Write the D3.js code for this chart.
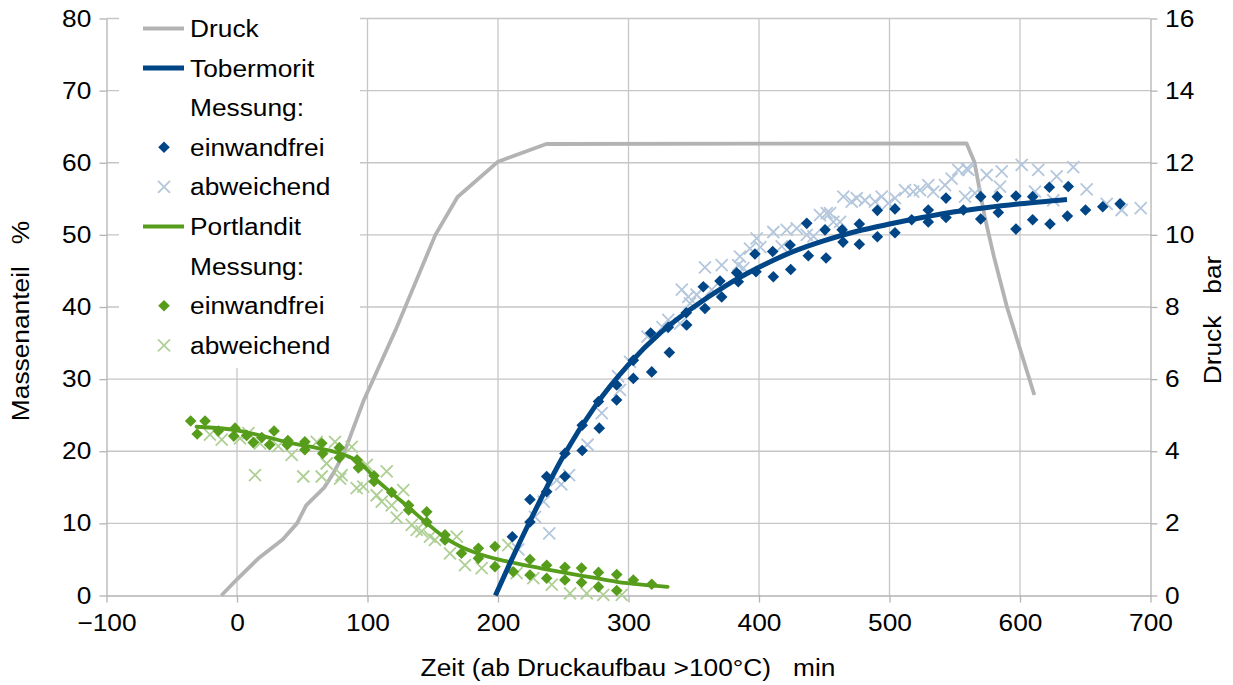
<!DOCTYPE html>
<html>
<head>
<meta charset="utf-8">
<script src="https://cdn.jsdelivr.net/npm/d3@7/dist/d3.min.js"></script>
<style>
  html, body { margin: 0; padding: 0; background: #fff; }
  svg { display: block; font-family: "Liberation Sans", Arial, sans-serif; }
</style>
</head>
<body>
<svg id="chart" width="1233" height="685"></svg>
<script>
// Pressure during autoclaving [min, bar]
const druck = [[-12,0],[0,0.45],[17,1.05],[35,1.55],[46,2.0],[53,2.5],[67,3.0],[74,3.4],[82,3.95],
  [97,5.4],[122,7.4],[152,10.0],[169,11.05],[200,12.03],[237,12.52],[559,12.54],[565,12.03],
  [573,10.5],[580,9.4],[590,8.0],[611,5.56]];

// Fitted Tobermorit content [min, %]
const tobermoritFit = [[198,0],[210,4.8],[225,10.5],[250,19.3],[275,26.4],[300,32.0],[325,36.5],
  [350,40.0],[375,43.0],[400,45.5],[425,47.6],[450,49.2],[475,50.5],[500,51.5],[525,52.4],
  [550,53.2],[575,53.8],[600,54.3],[636,54.9]];

// Tobermorit measurements, valid
const tobermoritOk = [[211,8.15],[224.5,13.3],[224.5,10.2],[237.3,16.5],[237.3,14.4],[251.3,19.7],
  [251.3,16.5],[264.5,23.6],[264.5,20.1],[277,26.9],[277.6,23.2],[290.9,29.2],[290.9,27.1],
  [303.7,32.6],[303.7,30.1],[317,36.4],[317.8,31.0],[330.5,37.2],[331.3,33.7],[344.3,39.2],
  [344.6,37.5],[357.3,42.8],[358.6,39.8],[370.1,43.6],[371.4,41.4],[382.9,44.75],[384.1,43.5],
  [396.9,47.35],[397.7,44.9],[410.5,47.7],[411,44.2],[423.8,48.6],[424.3,45.2],[436.6,51.6],
  [437.8,47.1],[450.6,50.7],[451.4,46.8],[463.7,50.7],[464.4,49.0],[476.9,51.5],[476.9,48.7],
  [490.7,53.4],[490.7,49.75],[504.2,53.6],[504.2,50.3],[517,52.1],[529.7,53.45],[529.7,51.8],
  [543.3,55.1],[543.3,52.4],[556.6,53.45],[569.9,55.3],[569.9,52.2],[582.6,55.3],[583.4,53.1],
  [596.9,55.4],[596.9,50.8],[609.7,55.3],[609.7,52.1],[622.5,56.6],[623,51.5],[637,56.7],
  [636.3,52.6],[650.2,53.45],[663.4,53.9],[676.7,54.3]];

// Tobermorit measurements, deviating
const tobermoritDev = [[215.6,6.4],[228.4,10.9],[235,13.0],[239.3,8.6],[245,16.0],[248.5,15.4],
  [254.5,16.7],[268.6,20.9],[279.5,25.3],[292,30.4],[293.5,28.5],[301.2,32.4],[314.5,35.9],
  [326,37.2],[330.5,38.2],[339.5,37.7],[340.8,42.4],[345.8,41.4],[347.1,40.5],[352.2,41.7],
  [358.6,45.5],[363.8,42.4],[371.4,45.8],[384,45.8],[385.4,47.0],[388,45.4],[393.1,48.1],
  [398.2,49.5],[401,48.3],[411,50.4],[417.4,48.4],[421.2,50.7],[428.9,50.9],[436.6,50.0],
  [441.7,49.8],[446.7,52.75],[451.9,53.0],[454.4,53.0],[457,51.8],[462.1,51.8],[464.6,55.3],
  [471,54.6],[474.9,55.1],[481.2,54.8],[488.9,54.6],[494,55.3],[499.1,54.4],[504.2,55.1],
  [511.9,56.2],[518.2,56.0],[523.3,56.2],[529.7,56.9],[533.5,56.0],[542.5,56.9],[547.6,57.8],
  [552.7,59.0],[559.2,59.2],[560.4,59.0],[557.9,55.3],[565.5,55.8],[574.5,58.3],[584.7,56.7],
  [586,58.8],[601.3,59.7],[611.5,56.0],[614,59.0],[625.5,54.8],[628.1,58.1],[640.8,59.4],
  [651.1,56.3],[666.4,54.3],[677.9,53.45],[692.5,53.7]];

// Fitted Portlandit content [min, %]
const portlanditFit = [[-31,23.4],[0,22.9],[20,22.1],[40,21.2],[60,20.5],[75,19.9],[85,19.3],
  [93,18.6],[100,17.4],[106,16.2],[118,14.3],[131,12.3],[145,10.1],[158,8.2],[170,6.9],
  [184,5.85],[200,5.0],[214,4.45],[235,3.7],[253,3.1],[272,2.5],[291,1.9],[310,1.5],[330,1.2]];

// Portlandit measurements, valid
const portlanditOk = [[-35.5,24.2],[-24.5,24.2],[-30.5,22.4],[-14.3,22.8],[-1.5,23.2],[-2.5,22.1],
  [7.4,22.2],[12.5,21.2],[19,21.9],[25,20.9],[28.4,22.8],[39,21.5],[38.5,20.9],[52,21.3],
  [52,20.2],[65,21.1],[65.7,19.7],[78.4,20.5],[78.4,19.1],[92,18.8],[93,17.7],[105,16.6],
  [105,15.8],[118.5,14.3],[131.5,12.5],[131.5,11.85],[145.4,11.6],[145.4,10.2],[159.4,8.4],
  [159.4,7.7],[172,5.85],[185,6.55],[185,5.15],[197.7,6.8],[197.7,4.0],[211.7,3.3],[224.5,5.0],
  [224.5,2.85],[237.3,4.2],[237.3,2.4],[251.3,3.9],[251.3,2.15],[264,3.8],[264,1.8],[277,3.2],
  [277,1.2],[291,2.9],[291,0.7],[303.7,2.15],[317.8,1.55]];

// Portlandit measurements, deviating
const portlanditDev = [[-20.7,22.3],[-11.7,21.6],[2.3,21.8],[8.7,22.5],[13.8,16.7],[17.6,21.1],
  [31.6,20.7],[41.9,19.5],[50.8,16.5],[61.1,21.3],[64.9,16.5],[68.7,18.3],[75.1,21.3],[79,16.2],
  [80.2,16.7],[87.9,20.6],[91.7,14.9],[96.8,15.1],[99.4,18.1],[107,13.9],[110.9,13.0],
  [114.7,17.2],[118.5,12.5],[122.4,10.8],[127.4,14.6],[133.9,9.8],[137.7,9.1],[141.5,8.9],
  [147.9,8.15],[151.7,7.7],[163.2,5.85],[168.4,8.15],[174.7,4.2],[187.5,3.8],[207.9,7.0],
  [214.3,3.1],[227.1,2.4],[241.2,1.5],[255.2,0.3],[268,0.3],[280.7,0.1],[294.8,0.1]];

const xTicks = [-100, 0, 100, 200, 300, 400, 500, 600, 700];
const yTicks = [0, 10, 20, 30, 40, 50, 60, 70, 80];
const y2Ticks = [0, 2, 4, 6, 8, 10, 12, 14, 16];

const legendItems = [
  { label: "Druck", kind: "line", color: "#b3b3b3", width: 4 },
  { label: "Tobermorit", kind: "line", color: "#004586", width: 5 },
  { label: "Messung:", kind: "none" },
  { label: "einwandfrei", kind: "diamond", color: "#004586" },
  { label: "abweichend", kind: "cross", color: "#b4c7dc" },
  { label: "Portlandit", kind: "line", color: "#579d1c", width: 4 },
  { label: "Messung:", kind: "none" },
  { label: "einwandfrei", kind: "diamond", color: "#579d1c" },
  { label: "abweichend", kind: "cross", color: "#afd095" }
];

const svg = d3.select("#chart");
const plotLeft = 106.5, plotRight = 1150.5, plotTop = 18.5, plotBottom = 595.5;

const x = d3.scaleLinear().domain([-100, 700]).range([plotLeft, plotRight]);
const y = d3.scaleLinear().domain([0, 80]).range([plotBottom, plotTop]);
const y2 = d3.scaleLinear().domain([0, 16]).range([plotBottom, plotTop]);

const gridColor = "#c6c6c6";
const axisColor = "#b3b3b3";
const fontSize = 23.5;
const stretch = 1.12;   // horizontal glyph stretch of all labels

// Grid lines
const grid = svg.append("g");
grid.selectAll("line.h").data(yTicks.filter(d => d > 0)).join("line")
  .attr("x1", plotLeft).attr("x2", plotRight)
  .attr("y1", d => y(d)).attr("y2", d => y(d))
  .attr("stroke", gridColor).attr("stroke-width", 1.3);
grid.selectAll("line.v").data(xTicks.slice(1, -1)).join("line")
  .attr("x1", d => x(d)).attr("x2", d => x(d))
  .attr("y1", plotTop).attr("y2", plotBottom)
  .attr("stroke", gridColor).attr("stroke-width", 1.3);

// Axes
const axisStyle = g => {
  g.select(".domain").attr("stroke", axisColor).attr("stroke-width", 1.3);
  g.selectAll(".tick line").attr("stroke", axisColor).attr("stroke-width", 1.3);
  g.selectAll(".tick text").attr("fill", "#000").attr("font-size", fontSize)
    .attr("font-family", "Liberation Sans, Arial, sans-serif")
    .attr("transform", `scale(${stretch},1)`);
};
svg.append("g").attr("transform", `translate(0,${plotBottom})`)
  .call(d3.axisBottom(x).tickValues(xTicks).tickSize(7).tickSizeOuter(0).tickPadding(12).tickFormat(d3.format("d")))
  .call(axisStyle);
svg.append("g").attr("transform", `translate(${plotLeft},0)`)
  .call(d3.axisLeft(y).tickValues(yTicks).tickSize(7).tickSizeOuter(0).tickPadding(6.5))
  .call(axisStyle);
svg.append("g").attr("transform", `translate(${plotRight},0)`)
  .call(d3.axisRight(y2).tickValues(y2Ticks).tickSize(7).tickSizeOuter(0).tickPadding(6))
  .call(axisStyle);

// Axis titles
svg.append("text").attr("transform", `translate(628,676) scale(${stretch},1)`).attr("text-anchor", "middle")
  .attr("font-size", fontSize).style("white-space", "pre").text("Zeit (ab Druckaufbau >100°C)   min");
svg.append("text").attr("transform", `translate(29,321) rotate(-90) scale(${stretch},1)`).attr("text-anchor", "middle")
  .attr("font-size", fontSize).style("white-space", "pre").text("Massenanteil   %");
svg.append("text").attr("transform", `translate(1221,320) rotate(-90) scale(${stretch},1)`).attr("text-anchor", "middle")
  .attr("font-size", fontSize).style("white-space", "pre").text("Druck   bar");

// Marker shapes
const diamondPath = "M0,-5.8L5.8,0L0,5.8L-5.8,0Z";
const crossPath = "M-6,-6L6,6M-6,6L6,-6";

const plot = svg.append("g");

// Pressure curve
const lineP = d3.line().x(d => x(d[0])).y(d => y2(d[1]));
plot.append("path").datum(druck).attr("d", lineP)
  .attr("fill", "none").attr("stroke", "#b3b3b3").attr("stroke-width", 3.8)
  .attr("stroke-linejoin", "round");

function crosses(data, color) {
  plot.append("g").selectAll("path").data(data).join("path")
    .attr("transform", d => `translate(${x(d[0])},${y(d[1])})`)
    .attr("d", crossPath).attr("stroke", color).attr("stroke-width", 1.8).attr("fill", "none");
}
function diamonds(data, color) {
  plot.append("g").selectAll("path").data(data).join("path")
    .attr("transform", d => `translate(${x(d[0])},${y(d[1])})`)
    .attr("d", diamondPath).attr("fill", color);
}

crosses(portlanditDev, "#afd095");
crosses(tobermoritDev, "#b4c7dc");
diamonds(portlanditOk, "#579d1c");
diamonds(tobermoritOk, "#004586");

const lineM = d3.line().x(d => x(d[0])).y(d => y(d[1])).curve(d3.curveMonotoneX);
plot.append("path").datum(portlanditFit).attr("d", lineM)
  .attr("fill", "none").attr("stroke", "#579d1c").attr("stroke-width", 3.8).attr("stroke-linecap", "round");
plot.append("path").datum(tobermoritFit).attr("d", lineM)
  .attr("fill", "none").attr("stroke", "#004586").attr("stroke-width", 5).attr("stroke-linecap", "butt");

// Legend
const legend = svg.append("g");
legend.append("rect").attr("x", 119).attr("y", 8).attr("width", 241).attr("height", 360).attr("fill", "#fff");
const rowY = i => 28.5 + i * 39.6;
legendItems.forEach((it, i) => {
  const cy = rowY(i);
  if (it.kind === "line") {
    legend.append("line").attr("x1", 143).attr("x2", 184).attr("y1", cy).attr("y2", cy)
      .attr("stroke", it.color).attr("stroke-width", it.width);
  } else if (it.kind === "diamond") {
    legend.append("path").attr("transform", `translate(164,${cy})`).attr("d", diamondPath).attr("fill", it.color);
  } else if (it.kind === "cross") {
    legend.append("path").attr("transform", `translate(164,${cy})`).attr("d", crossPath)
      .attr("stroke", it.color).attr("stroke-width", 1.8);
  }
  legend.append("text").attr("transform", `translate(190,${cy}) scale(${stretch},1)`).attr("dy", "0.36em")
    .attr("font-size", fontSize).text(it.label);
});
</script>
</body>
</html>
